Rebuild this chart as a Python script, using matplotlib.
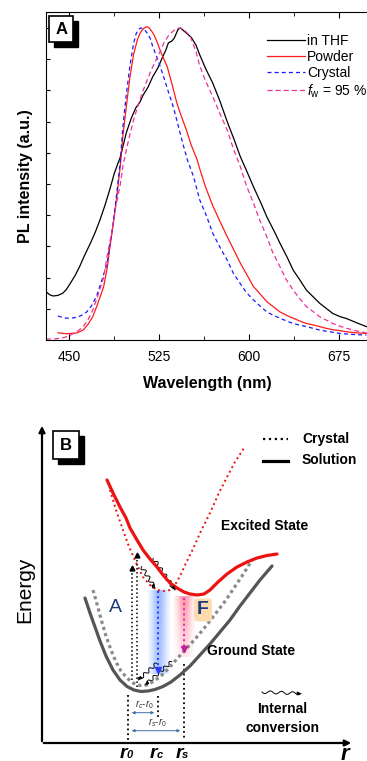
import numpy as np
import matplotlib
matplotlib.use('Agg')
import matplotlib.pyplot as plt
from matplotlib.patches import Rectangle

plt.rcParams['font.family'] = ['Liberation Sans', 'DejaVu Sans']
plt.rcParams['mathtext.fontset'] = 'custom'
plt.rcParams['mathtext.rm'] = 'Liberation Sans'
plt.rcParams['mathtext.it'] = 'Liberation Sans:italic'
plt.rcParams['mathtext.bf'] = 'Liberation Sans:bold'

#%% panel A: normalised PL spectra
thf_nm = [431, 434, 437, 441, 445, 448, 451, 455, 459, 463, 468, 472, 476, 480, 484, 488,
          493, 498, 502, 506, 509, 512, 516, 520, 524, 528, 531, 533, 536, 538, 541, 543,
          546, 549, 552, 556, 559, 564, 570, 576, 582, 588, 593, 599, 604, 610, 615, 621,
          626, 632, 637, 643, 648, 654, 659, 665, 670, 676, 682, 690, 698]
thf_pl = [.155, .145, .141, .143, .150, .162, .180, .205, .235, .27, .31, .345, .385, .43, .48, .535,
          .587, .665, .71, .745, .76, .785, .81, .844, .87, .905, .93, .952, .958, .968, .995, 1.0,
          .99, .98, .97, .945, .915, .87, .823, .765, .70, .64, .587, .535, .49, .44, .395, .35,
          .31, .265, .224, .19, .16, .137, .118, .10, .085, .075, .068, .055, .043]

powder_nm = [441, 448, 452, 457, 462, 466, 470, 474, 479, 482, 484, 487, 490, 493, 495, 498,
             501, 504, 507, 509, 511, 513, 515, 517, 519, 521, 523, 527, 532, 536, 540, 544,
             548, 552, 557, 559, 564, 570, 576, 582, 588, 593, 599, 604, 610, 615, 621, 626,
             632, 637, 643, 648, 654, 659, 665, 670, 676, 682, 690, 698]
powder_pl = [.023, .02, .021, .023, .032, .05, .075, .115, .17, .23, .29, .37, .46, .56, .65, .75,
             .844, .915, .96, .98, .993, 1.0, 1.004, 1.0, .99, .978, .96, .92, .876, .82, .76, .715,
             .673, .625, .577, .55, .49, .43, .38, .331, .285, .246, .205, .171, .145, .123, .105, .09,
             .078, .07, .06, .053, .048, .043, .037, .033, .03, .026, .023, .021]

crystal_nm = [441, 445, 448, 452, 457, 461, 465, 469, 473, 477, 482, 484, 487, 490, 493, 495,
              498, 501, 504, 506, 508, 510, 512, 514, 516, 518, 520, 525, 529, 533, 537, 541,
              545, 549, 554, 559, 565, 570, 576, 582, 587, 593, 598, 604, 610, 615, 621, 626,
              632, 637, 643, 648, 654, 659, 665, 670, 676, 682, 690, 698]
crystal_pl = [.077, .072, .07, .07, .073, .08, .09, .11, .139, .185, .246, .30, .374, .47, .577, .68,
              .79, .88, .95, .98, .995, 1.0, .998, .99, .98, .965, .94, .89, .844, .795, .748, .69,
              .63, .575, .523, .45, .395, .342, .297, .256, .215, .18, .152, .128, .107, .09, .078, .07,
              .06, .053, .047, .043, .037, .032, .028, .025, .021, .019, .017, .016]

fw95_nm = [431, 440, 446, 450, 454, 458, 462, 466, 470, 474, 479, 482, 486, 489, 493, 495,
           498, 501, 504, 508, 512, 516, 520, 525, 529, 533, 537, 540, 543, 547, 551, 556,
           559, 564, 570, 576, 582, 587, 593, 598, 604, 609, 615, 620, 626, 631, 637, 643,
           648, 654, 659, 665, 670, 676, 682, 690, 698]
fw95_pl = [.003, .004, .008, .013, .021, .03, .043, .065, .096, .14, .20, .27, .35, .425, .50, .555,
           .61, .66, .705, .755, .80, .84, .876, .915, .95, .975, .99, .998, 1.0, .99, .975, .925,
           .88, .83, .78, .725, .673, .615, .555, .495, .438, .385, .331, .28, .235, .195, .16, .13,
           .107, .09, .075, .063, .053, .044, .037, .029, .023]

x_ticks = [450, 525, 600, 675]

#%% panel B: potential curves of the scheme (x, y in picture pixels)
gs_sol_x = [85, 90, 95, 100, 106, 113, 120, 127, 134, 141, 148, 155, 163, 171, 180, 190,
            200, 210, 220, 230, 240, 250, 260, 272]
gs_sol_y = [598, 613, 627, 641, 656, 670, 680, 686.5, 690, 691.5, 691, 689.5, 686.5, 682, 675, 666,
            655, 644, 632, 620, 606, 593, 580, 566]
gs_cry_x = [93, 97, 101, 106, 111, 116, 121, 127, 133, 140, 147, 154, 161, 168, 176, 186,
            196, 206, 216, 226, 236, 244, 252]
gs_cry_y = [590, 604, 619, 636, 650, 662, 671, 678, 683, 685.5, 685, 681, 676, 669, 660, 649,
            638, 626, 613, 600, 585, 573, 560]
ex_sol_x = [107, 113, 120, 126, 130, 137, 143, 150, 157, 163, 170, 177, 184, 190, 197, 204,
            210, 218, 227, 237, 247, 257, 267, 277]
ex_sol_y = [480, 493, 507, 518, 528, 540, 550, 559, 567, 575, 583, 588, 592, 594, 595, 594,
            590, 582, 574, 567, 562, 558, 555.5, 554]
ex_cry_x = [110, 116, 123, 128, 133, 138, 143, 150, 157, 164, 170, 175, 180, 186, 193, 201,
            210, 218, 227, 235, 244]
ex_cry_y = [490, 510, 530, 544, 556, 567, 577, 585, 590, 591, 590, 585, 576, 563, 549, 531,
            513, 495, 477, 462, 448]

r_pos = {'0': 128, 'c': 158, 's': 184}

fig = plt.figure(figsize=(3.67, 7.61), dpi=100)

# ---- panel A
ax = fig.add_axes([46/367, 1 - 340/761, (369 - 46)/367, 328/761])
ax.plot(thf_nm, thf_pl, color='black', lw=0.9, label='in THF')
ax.plot(powder_nm, powder_pl, color='#ff1a1a', lw=0.9, label='Powder')
ax.plot(crystal_nm, crystal_pl, color='#1a1aff', lw=0.9, dashes=(3.2, 2.5), label='Crystal')
ax.plot(fw95_nm, fw95_pl, color='#f0309a', lw=0.9, dashes=(4, 2.5), label=r'$\mathit{f}_\mathregular{w}$ = 95 %')
ax.set_xlim(431, 700.2)
ax.set_ylim(0, 1.051)
ax.set_xticks(x_ticks)
ax.set_xticks([487.5, 562.5, 637.5], minor=True)
ax.set_yticks(np.arange(0.1, 1.01, 0.1))
ax.set_yticklabels([])
ax.tick_params(axis='both', which='both', direction='in', top=True, right=False, labelsize=10)
ax.tick_params(axis='x', which='major', length=4, pad=7)
ax.tick_params(axis='x', which='minor', length=3)
ax.tick_params(axis='y', length=3)
ax.spines['right'].set_visible(False)
ax.set_xlabel('Wavelength (nm)', fontsize=11.5, fontweight='bold', labelpad=9)
ax.set_ylabel('PL intensity (a.u.)', fontsize=11.5, fontweight='bold', labelpad=6)
ax.legend(loc='upper left', bbox_to_anchor=(267/367, 1 - 34/761), bbox_transform=fig.transFigure,
          frameon=False, fontsize=10, handlelength=2.75, handletextpad=0.15,
          labelspacing=0.15, borderpad=0, borderaxespad=0)

# ---- overlay in picture pixels (panel labels + scheme B)
ov = fig.add_axes([0, 0, 1, 1])
ov.set_zorder(5)
ov.patch.set_alpha(0)


def label_box(x, y, w, h, txt):
    ov.add_patch(Rectangle((x + 5, y + 5), w, h, fc='black', ec='black', lw=1))
    ov.add_patch(Rectangle((x, y), w, h, fc='white', ec='black', lw=1.2))
    ov.text(x + w/2, y + h/2 + 1, txt, ha='center', va='center', fontsize=12, fontweight='bold')


def wavy(p0, p1, n=4, amp=2.0, lw=0.7):
    p0 = np.array(p0, float)
    p1 = np.array(p1, float)
    d = p1 - p0
    u = d / np.hypot(*d)
    nrm = np.array([-u[1], u[0]])
    t = np.linspace(0, 1, 120)
    pts = p0 + np.outer(t, d) + np.outer(amp * np.sin(2 * np.pi * n * t), nrm)
    ov.plot(pts[:, 0], pts[:, 1], color='black', lw=lw)
    ov.annotate('', xy=p1, xytext=p1 - u * 2,
                arrowprops=dict(arrowstyle='-|>', color='black', lw=lw, mutation_scale=5))


def band(x0, x1, y0, y1, rgb, a_top, a_bot):
    xs = np.linspace(-1, 1, 40)
    across = np.exp(-(xs / 0.7) ** 2)
    down = np.linspace(a_top, a_bot, 40)[:, None]
    img = np.zeros((40, 40, 4))
    img[..., :3] = rgb
    img[..., 3] = down * across[None, :]
    ov.imshow(img, extent=(x0, x1, y1, y0), aspect='auto', interpolation='bilinear', zorder=1)


label_box(49.3, 16, 24, 25.7, 'A')
label_box(52.7, 431, 26.5, 28, 'B')

# axes of the scheme
ov.annotate('', xy=(42, 423), xytext=(42, 744),
            arrowprops=dict(arrowstyle='-|>', color='black', lw=1.6, mutation_scale=9))
ov.annotate('', xy=(354, 743), xytext=(41, 743),
            arrowprops=dict(arrowstyle='-|>', color='black', lw=1.6, mutation_scale=9))
ov.text(25, 590, 'Energy', rotation=90, ha='center', va='center', fontsize=15)
ov.text(345, 744, 'r', ha='center', va='top', fontsize=16, fontweight='bold', style='italic')

# emission bands
band(148, 170, 590, 674, (0.35, 0.55, 1.0), 0.6, 0.5)
band(174, 195, 596, 657, (1.0, 0.35, 0.45), 0.65, 0.15)

# curves
ov.plot(gs_sol_x, gs_sol_y, color='#555555', lw=2.3, solid_capstyle='round', zorder=3)
ov.plot(gs_cry_x, gs_cry_y, color='#8a8a8a', lw=2.3, dashes=(1, 1), dash_capstyle='butt', zorder=3)
ov.plot(ex_sol_x, ex_sol_y, color='#ee1111', lw=2.3, solid_capstyle='round', zorder=3)
ov.plot(ex_cry_x, ex_cry_y, color='#ee1111', lw=1.4, linestyle=':', zorder=3)

# absorption arrows
for x, yt, yb in [(131.7, 566, 680), (136.7, 553, 687)]:
    ov.plot([x, x], [yb, yt + 3], color='black', lw=1.1, linestyle=':', zorder=4)
    ov.plot([x], [yt + 2], marker='^', color='black', ms=3.5, zorder=4)

# emission arrows
ov.plot([158.3, 158.3], [591, 669], color='#2a3cff', lw=1.4, linestyle=':', zorder=4)
ov.plot([158.3], [670], marker='v', color='#2a3cff', ms=4, zorder=4)
ov.plot([184, 184], [598, 648], color='#e020c0', lw=1.4, linestyle=':', zorder=4)
ov.plot([184], [649], marker='v', color='#c0209a', ms=4, zorder=4)

# internal conversion
wavy((141.7, 566.7), (155, 588.3), n=3.5, amp=1.8)
wavy((153.3, 558.3), (175, 590), n=5, amp=1.8)
wavy((156.7, 663.3), (138.3, 680), n=3.5, amp=1.6)
wavy((171.7, 661.7), (145, 685), n=5, amp=1.6)
wavy((262, 692), (301, 693.5), n=3.5, amp=1.4)

ov.text(115, 607, 'A', ha='center', va='center', fontsize=14, color='#1f3a7a')
ov.text(203, 610, 'F', ha='center', va='center', fontsize=14, fontweight='bold', color='#1f3a7a',
        bbox=dict(boxstyle='round,pad=0.15', fc='#fcdcae', ec='none'))

# r0, rc, rs markers
ov.plot([r_pos['0']] * 2, [695, 741], color='black', lw=1.3, linestyle=':')
ov.plot([r_pos['c']] * 2, [696, 717], color='black', lw=1.3, linestyle=':')
ov.plot([r_pos['s']] * 2, [664, 738], color='black', lw=1.3, linestyle=':')
ov.annotate('', xy=(r_pos['c'] - 1, 712.7), xytext=(r_pos['0'] + 1, 712.7),
            arrowprops=dict(arrowstyle='<|-|>', color='#3a6ea5', lw=0.7, mutation_scale=4))
ov.annotate('', xy=(r_pos['s'] - 1, 730.7), xytext=(r_pos['0'] + 1, 730.7),
            arrowprops=dict(arrowstyle='<|-|>', color='#3a6ea5', lw=0.7, mutation_scale=4))
ov.text(144, 705, r'$r_c$-$r_0$', ha='center', va='center', fontsize=7, color='#333333')
ov.text(157, 723, r'$r_s$-$r_0$', ha='center', va='center', fontsize=7, color='#333333')
for k, x in r_pos.items():
    ov.text(x - 5, 745, 'r', ha='center', va='top', fontsize=14, fontweight='bold', style='italic')
    ov.text(x + 1.5, 750, k, ha='center', va='top', fontsize=8, fontweight='bold', style='italic')

# labels and legend of the scheme
ov.plot([263, 288], [439, 439], color='black', lw=1.6, linestyle=':')
ov.plot([263, 288], [461, 461], color='black', lw=2.3)
ov.text(302, 439, 'Crystal', ha='left', va='center', fontsize=10, fontweight='bold')
ov.text(302, 460, 'Solution', ha='left', va='center', fontsize=10, fontweight='bold')
ov.text(221, 526, 'Excited State', ha='left', va='center', fontsize=10, fontweight='bold')
ov.text(207, 651, 'Ground State', ha='left', va='center', fontsize=10, fontweight='bold')
ov.text(282, 709, 'Internal', ha='center', va='center', fontsize=10, fontweight='bold')
ov.text(283, 728, 'conversion', ha='center', va='center', fontsize=10, fontweight='bold')

ov.set_xlim(0, 367)
ov.set_ylim(761, 0)
ov.axis('off')

fig.savefig('out.png', dpi=100)
